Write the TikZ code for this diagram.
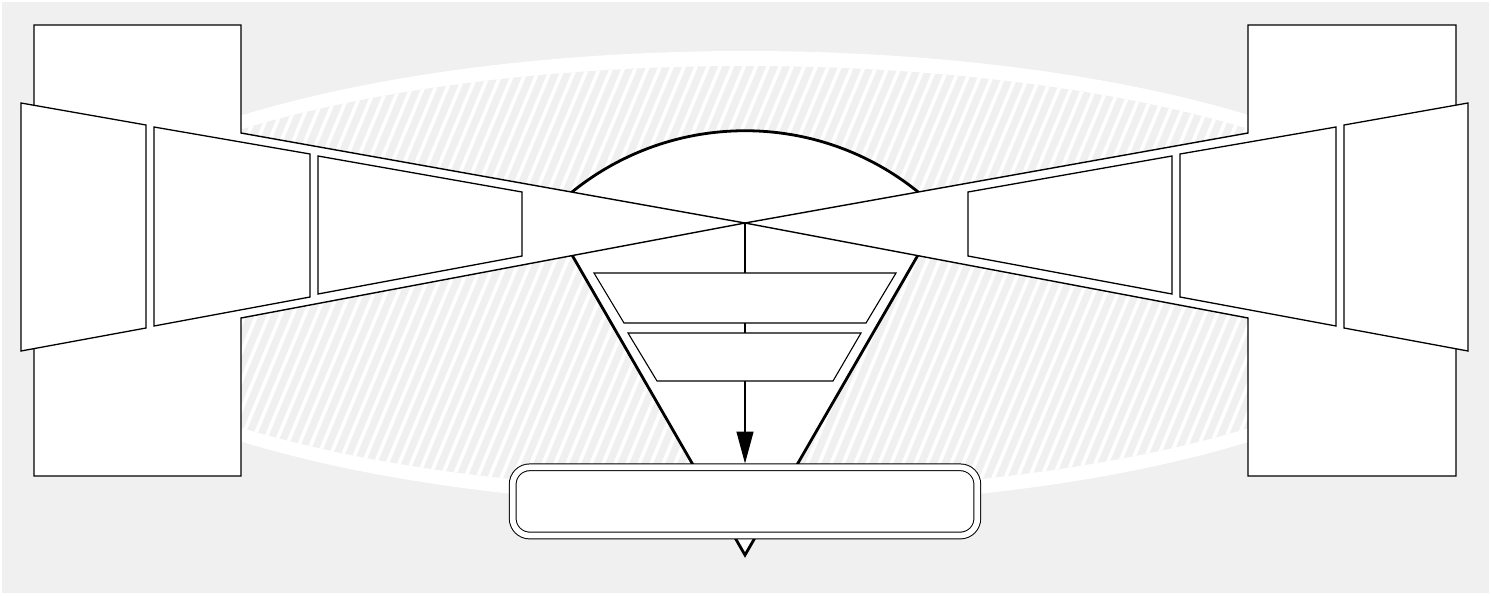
\documentclass[tikz,border=0pt]{standalone}
\usepackage{xcolor}
\definecolor{bggrey}{RGB}{240, 240, 240}
\definecolor{inkblack}{RGB}{0, 0, 0}
\usepackage{tikz}
\usetikzlibrary{positioning, shapes.geometric, arrows.meta, calc}

\begin{document}
\begin{tikzpicture}[x=0.5pt, y=-0.5pt, >=Stealth,
    frame/.style={draw=inkblack, fill=white, line width=0.7pt, line join=miter},
    panel/.style={draw=inkblack, fill=white, line width=0.65pt, line join=miter},
    hatchline/.style={white, line width=1.8pt},
    stage/.style={draw=inkblack, fill=white, line width=0.55pt, line join=miter}]
    \useasboundingbox (0,0) rectangle (1491,595);
    \fill [bggrey] (2,2) rectangle (1489,593);

    \fill [white] (745.5,278.5) ellipse [x radius=723, y radius=227.5];
    \begin{scope}
        \clip (745.5,278.5) ellipse [x radius=708, y radius=212.5];
        \fill [bggrey] (0,0) rectangle (1491,595);
        \foreach \k in {-18,...,124}
            \draw [hatchline] (12*\k,500) -- +(187,-450);
    \end{scope}

    \filldraw [fill=white, draw=inkblack, line width=1.4pt, line join=miter] (745,555) -- (572,255) -- (572,192) arc [start angle=231, end angle=309, radius=275] -- (918,255) -- cycle;

    \coordinate (cross) at (745,223);
    \draw [frame] (34,25) -- (241,25) -- (241,133) -- (cross) -- (241,318) -- (241,476) -- (34,476) -- cycle;
    \draw [frame] (1456,25) -- (1248,25) -- (1248,133) -- (cross) -- (1248,318) -- (1248,476) -- (1456,476) -- cycle;

    \draw [panel] (21,103) -- (146,125) -- (146,328) -- (21,351) -- cycle;
    \draw [panel] (154,127) -- (310,154) -- (310,297) -- (154,326) -- cycle;
    \draw [panel] (318,156) -- (522,192) -- (522,256) -- (318,294) -- cycle;
    \draw [panel] (1468,103) -- (1344,125) -- (1344,328) -- (1468,351) -- cycle;
    \draw [panel] (1336,127) -- (1180,154) -- (1180,297) -- (1336,326) -- cycle;
    \draw [panel] (1172,156) -- (968,192) -- (968,256) -- (1172,294) -- cycle;

    \coordinate (upper-in) at (745,273);
    \coordinate (upper-out) at (745,323);
    \coordinate (lower-in) at (745,333);
    \coordinate (lower-out) at (745,381);
    \draw [stage] (594,273) -- (896,273) -- (866,323) -- (624,323) -- cycle;
    \draw [stage] (628,333) -- (861,333) -- (833,381) -- (657,381) -- cycle;
    \node [draw=inkblack, double, double distance=2.85pt, line width=0.5pt, fill=white, rounded corners=8.5pt, minimum width=232.3pt, minimum height=34.1pt, inner sep=0pt, outer sep=1.9pt] (outlet) at (745,501.4) {};

    \draw [line width=0.65pt] (cross) -- (upper-in);
    \draw [line width=0.65pt] (upper-out) -- (lower-in);
    \draw [line width=0.65pt, -{Triangle[length=16pt, width=8.5pt]}] (lower-out) -- (outlet);
\end{tikzpicture}
\end{document}
